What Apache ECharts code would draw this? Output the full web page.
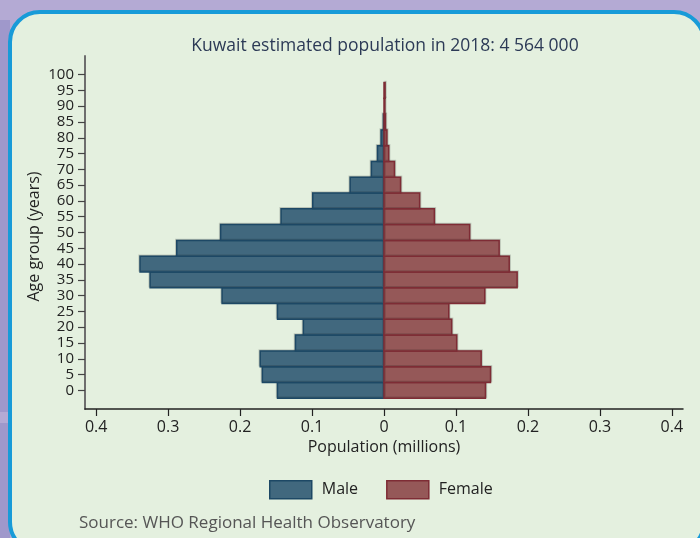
<!DOCTYPE html>
<html>
<head>
<meta charset="utf-8">
<script src="https://cdn.jsdelivr.net/npm/echarts@6/dist/echarts.min.js"></script>
<style>
  html, body { margin: 0; padding: 0; background: #b4aad4; }
  #chart { width: 700px; height: 538px; }
</style>
</head>
<body>
<div id="chart"></div>
<script>
// Age groups (lower bound of each 5-year band)
const ageGroups = [0, 5, 10, 15, 20, 25, 30, 35, 40, 45, 50, 55, 60, 65, 70, 75, 80, 85, 90, 95, 100];
// Population in millions per age group
const malePop   = [0.148, 0.169, 0.172, 0.123, 0.112, 0.148, 0.225, 0.325, 0.339, 0.288, 0.227, 0.143, 0.099, 0.047, 0.0175, 0.009, 0.004, 0.0008, 0, 0, 0];
const femalePop = [0.141, 0.148, 0.135, 0.101, 0.094, 0.090, 0.140, 0.185, 0.174, 0.160, 0.119, 0.070, 0.0495, 0.023, 0.0145, 0.0065, 0.004, 0.002, 0.0012, 0.0015, 0];
// Axis tick values
const xTicks = [-0.4, -0.3, -0.2, -0.1, 0, 0.1, 0.2, 0.3, 0.4];
const yTicks = ageGroups;

const titleText = 'Kuwait estimated population in 2018: 4 564 000';
const sourceText = 'Source: WHO Regional Health Observatory';

const FONT = '"Open Sans", "Noto Sans", sans-serif';
const maleStyle = { color: '#41687e', borderColor: '#1d4865', borderWidth: 1.5 };
const femaleStyle = { color: '#955858', borderColor: '#7e2c35', borderWidth: 1.5 };

// Each bar spans its 5-year band, from zero out to the value
function renderBand(params, api) {
  const v = api.value(0);
  const age = api.value(1);
  if (!v) return null;
  const a = api.coord([0, age + 2.5]);
  const b = api.coord([v, age - 2.5]);
  return {
    type: 'rect',
    shape: {
      x: Math.min(a[0], b[0]),
      y: a[1],
      width: Math.abs(b[0] - a[0]),
      height: b[1] - a[1]
    },
    style: api.style()
  };
}

const chart = echarts.init(document.getElementById('chart'), null, { renderer: 'canvas' });
chart.setOption({
  backgroundColor: '#b4aad4',
  animation: false,
  textStyle: { fontFamily: FONT },
  graphic: [
    { type: 'rect', z: -10, silent: true, shape: { x: 0, y: 20, width: 10, height: 392 }, style: { fill: '#9f98cb' } },
    { type: 'rect', z: -10, silent: true, shape: { x: 0, y: 423, width: 10, height: 120 }, style: { fill: '#9f98cb' } },
    { type: 'rect', z: -9, silent: true,
      shape: { x: 10, y: 12, width: 694, height: 540, r: 30 },
      style: { fill: '#e4f0df', stroke: '#189bd8', lineWidth: 4 } }
  ],
  title: [
    { text: titleText, left: 380, top: 32, textAlign: 'center',
      textStyle: { fontFamily: FONT, fontSize: 17.5, fontWeight: 'normal', color: '#2c3a56' } },
    { text: sourceText, left: 74, top: 510,
      textStyle: { fontFamily: FONT, fontSize: 17, fontWeight: 'normal', color: '#555' } }
  ],
  legend: {
    top: 475,
    left: 264,
    itemWidth: 42,
    itemHeight: 18,
    itemGap: 28,
    icon: 'rect',
    textStyle: { fontFamily: FONT, fontSize: 16, color: '#222', padding: [0, 0, 0, 5] },
    data: [
      { name: 'Male', itemStyle: maleStyle },
      { name: 'Female', itemStyle: femaleStyle }
    ]
  },
  grid: { left: 85, right: 17, top: 56, bottom: 129, containLabel: false },
  xAxis: {
    type: 'value',
    position: 'bottom',
    min: -0.4155,
    max: 0.4155,
    name: 'Population (millions)',
    nameLocation: 'middle',
    nameGap: 30,
    nameMoveOverlap: false,
    nameTextStyle: { fontFamily: FONT, fontSize: 16, color: '#222' },
    axisLine: { show: true, onZero: false, lineStyle: { color: '#222', width: 1.5 } },
    axisTick: { show: true, inside: false, customValues: xTicks, length: 7, lineStyle: { color: '#222', width: 1.2 } },
    axisLabel: {
      customValues: xTicks, fontSize: 16, color: '#222', margin: 10,
      showMinLabel: true, showMaxLabel: true,
      formatter: v => { const a = Math.abs(Math.round(v * 10) / 10); return a === 0 ? '0' : String(a); }
    },
    splitLine: { show: false }
  },
  yAxis: {
    type: 'value',
    position: 'left',
    min: -5.9,
    max: 105.9,
    name: 'Age group (years)',
    nameLocation: 'middle',
    nameGap: 43,
    nameMoveOverlap: false,
    nameTextStyle: { fontFamily: FONT, fontSize: 16, color: '#222', padding: [0, 8, 0, 0] },
    axisLine: { show: true, onZero: false, lineStyle: { color: '#6e6e6e', width: 2 } },
    axisTick: { show: true, inside: false, customValues: yTicks, length: 7, lineStyle: { color: '#444', width: 1.2 } },
    axisLabel: {
      customValues: yTicks, fontSize: 15, color: '#222', margin: 11, lineHeight: 15,
      showMinLabel: true, showMaxLabel: true, hideOverlap: false
    },
    splitLine: { show: false }
  },
  series: [
    {
      name: 'Male',
      type: 'custom',
      renderItem: renderBand,
      itemStyle: Object.assign({ shadowColor: 'rgba(0,0,0,0.15)', shadowOffsetX: -1, shadowOffsetY: -1 }, maleStyle),
      encode: { x: 0, y: 1 },
      data: ageGroups.map((a, i) => [-malePop[i], a])
    },
    {
      name: 'Female',
      type: 'custom',
      renderItem: renderBand,
      itemStyle: Object.assign({ shadowColor: 'rgba(0,0,0,0.15)', shadowOffsetX: 1, shadowOffsetY: -1 }, femaleStyle),
      encode: { x: 0, y: 1 },
      data: ageGroups.map((a, i) => [femalePop[i], a])
    }
  ]
});
</script>
</body>
</html>
